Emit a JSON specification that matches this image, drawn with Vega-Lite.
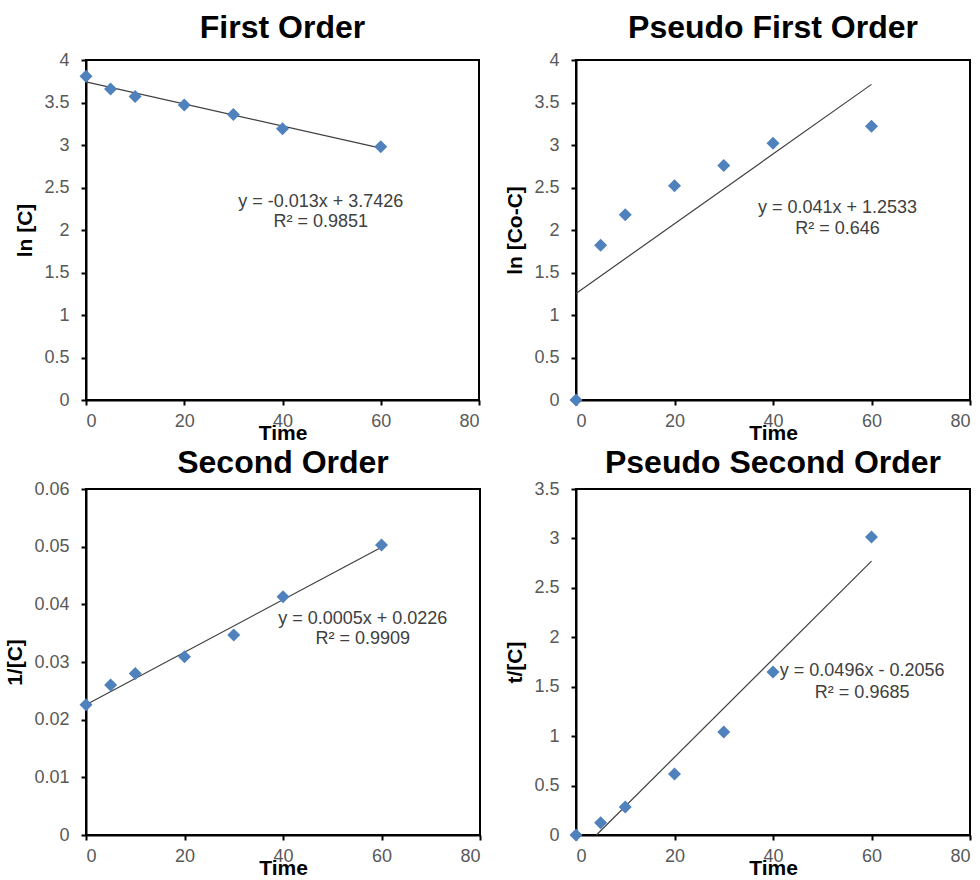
{
  "$schema": "https://vega.github.io/schema/vega-lite/v6.json",
  "background": "white",
  "padding": {"left": 3, "top": 11, "right": 5, "bottom": 0},
  "config": {
    "font": "Liberation Sans",
    "view": {"stroke": "black", "strokeWidth": 2},
    "axis": {"grid": false, "domainColor": "black", "domainWidth": 2, "tickColor": "black", "tickWidth": 2, "tickSize": 5, "labelFont": "Liberation Sans", "labelFontSize": 18, "labelColor": "#595959", "titleFont": "Liberation Sans", "titleFontSize": 21, "titleFontWeight": "bold", "titleColor": "black"},
    "axisX": {"titlePadding": -8, "labelPadding": 7},
    "axisY": {"titlePadding": 8, "labelPadding": 12},
    "title": {"font": "Liberation Sans", "fontSize": 32, "fontWeight": "bold", "color": "black", "anchor": "middle", "offset": 6}
  },
  "datasets": {
    "fo": [{"t":0,"v":3.81},{"t":5,"v":3.66},{"t":10,"v":3.57},{"t":20,"v":3.47},{"t":30,"v":3.36},{"t":40,"v":3.19},{"t":60,"v":2.98}],
    "foLine": [{"t":0,"v":3.7426},{"t":60,"v":2.9626}],
    "foText": [{"t":47.8,"v":2.33,"label":"y = -0.013x + 3.7426"},{"t":47.8,"v":2.09,"label":"R² = 0.9851"}],
    "pfo": [{"t":0,"v":0},{"t":5,"v":1.82},{"t":10,"v":2.18},{"t":20,"v":2.52},{"t":30,"v":2.76},{"t":40,"v":3.02},{"t":60,"v":3.22}],
    "pfoLine": [{"t":0,"v":1.2533},{"t":60,"v":3.7133}],
    "pfoText": [{"t":53.1,"v":2.26,"label":"y = 0.041x + 1.2533"},{"t":53.1,"v":2.01,"label":"R² = 0.646"}],
    "so": [{"t":0,"v":0.0226},{"t":5,"v":0.026},{"t":10,"v":0.028},{"t":20,"v":0.0309},{"t":30,"v":0.0347},{"t":40,"v":0.0413},{"t":60,"v":0.0503}],
    "soLine": [{"t":0,"v":0.0226},{"t":60,"v":0.0499}],
    "soText": [{"t":56.2,"v":0.03745,"label":"y = 0.0005x + 0.0226"},{"t":56.2,"v":0.034,"label":"R² = 0.9909"}],
    "pso": [{"t":0,"v":0},{"t":5,"v":0.123},{"t":10,"v":0.283},{"t":20,"v":0.618},{"t":30,"v":1.041},{"t":40,"v":1.649},{"t":60,"v":3.015}],
    "psoLine": [{"t":4.145,"v":0},{"t":60,"v":2.77}],
    "psoText": [{"t":58.1,"v":1.657,"label":"y = 0.0496x - 0.2056"},{"t":58.1,"v":1.441,"label":"R² = 0.9685"}]
  },
  "columns": 2,
  "spacing": {"row": 2, "column": 21},
  "concat": [
    {
      "title": "First Order",
      "width": 393, "height": 340,
      "encoding": {
        "x": {"field": "t", "type": "quantitative", "title": "Time", "scale": {"domain": [0, 80]}, "axis": {"values": [0,20,40,60,80]}},
        "y": {"field": "v", "type": "quantitative", "title": "ln [C]", "scale": {"domain": [0, 4]}, "axis": {"values": [0,0.5,1,1.5,2,2.5,3,3.5,4], "format": "~g"}}
      },
      "layer": [
        {"data": {"name": "foLine"}, "mark": {"type": "line", "color": "#404040", "strokeWidth": 1.2}},
        {"data": {"name": "fo"}, "mark": {"type": "point", "shape": "diamond", "filled": true, "size": 170, "color": "#4F81BD", "opacity": 1}},
        {"data": {"name": "foText"}, "mark": {"type": "text", "fontSize": 18, "color": "#404040", "align": "center", "baseline": "middle"}, "encoding": {"text": {"field": "label"}}}
      ]
    },
    {
      "title": "Pseudo First Order",
      "width": 394, "height": 340,
      "encoding": {
        "x": {"field": "t", "type": "quantitative", "title": "Time", "scale": {"domain": [0, 80]}, "axis": {"values": [0,20,40,60,80]}},
        "y": {"field": "v", "type": "quantitative", "title": "ln [Co-C]", "scale": {"domain": [0, 4]}, "axis": {"values": [0,0.5,1,1.5,2,2.5,3,3.5,4], "format": "~g"}}
      },
      "layer": [
        {"data": {"name": "pfoLine"}, "mark": {"type": "line", "color": "#404040", "strokeWidth": 1.2}},
        {"data": {"name": "pfo"}, "mark": {"type": "point", "shape": "diamond", "filled": true, "size": 170, "color": "#4F81BD", "opacity": 1}},
        {"data": {"name": "pfoText"}, "mark": {"type": "text", "fontSize": 18, "color": "#404040", "align": "center", "baseline": "middle"}, "encoding": {"text": {"field": "label"}}}
      ]
    },
    {
      "title": {"text": "Second Order", "offset": 0},
      "width": 394, "height": 346,
      "encoding": {
        "x": {"field": "t", "type": "quantitative", "title": "Time", "scale": {"domain": [0, 80]}, "axis": {"values": [0,20,40,60,80]}},
        "y": {"field": "v", "type": "quantitative", "title": "1/[C]", "scale": {"domain": [0, 0.06]}, "axis": {"values": [0,0.01,0.02,0.03,0.04,0.05,0.06], "format": "~g"}}
      },
      "layer": [
        {"data": {"name": "soLine"}, "mark": {"type": "line", "color": "#404040", "strokeWidth": 1.2}},
        {"data": {"name": "so"}, "mark": {"type": "point", "shape": "diamond", "filled": true, "size": 170, "color": "#4F81BD", "opacity": 1}},
        {"data": {"name": "soText"}, "mark": {"type": "text", "fontSize": 18, "color": "#404040", "align": "center", "baseline": "middle"}, "encoding": {"text": {"field": "label"}}}
      ]
    },
    {
      "title": {"text": "Pseudo Second Order", "offset": 0},
      "width": 394, "height": 346,
      "encoding": {
        "x": {"field": "t", "type": "quantitative", "title": "Time", "scale": {"domain": [0, 80]}, "axis": {"values": [0,20,40,60,80]}},
        "y": {"field": "v", "type": "quantitative", "title": "t/[C]", "scale": {"domain": [0, 3.5]}, "axis": {"values": [0,0.5,1,1.5,2,2.5,3,3.5], "format": "~g"}}
      },
      "layer": [
        {"data": {"name": "psoLine"}, "mark": {"type": "line", "color": "#404040", "strokeWidth": 1.2}},
        {"data": {"name": "pso"}, "mark": {"type": "point", "shape": "diamond", "filled": true, "size": 170, "color": "#4F81BD", "opacity": 1}},
        {"data": {"name": "psoText"}, "mark": {"type": "text", "fontSize": 18, "color": "#404040", "align": "center", "baseline": "middle"}, "encoding": {"text": {"field": "label"}}}
      ]
    }
  ]
}
